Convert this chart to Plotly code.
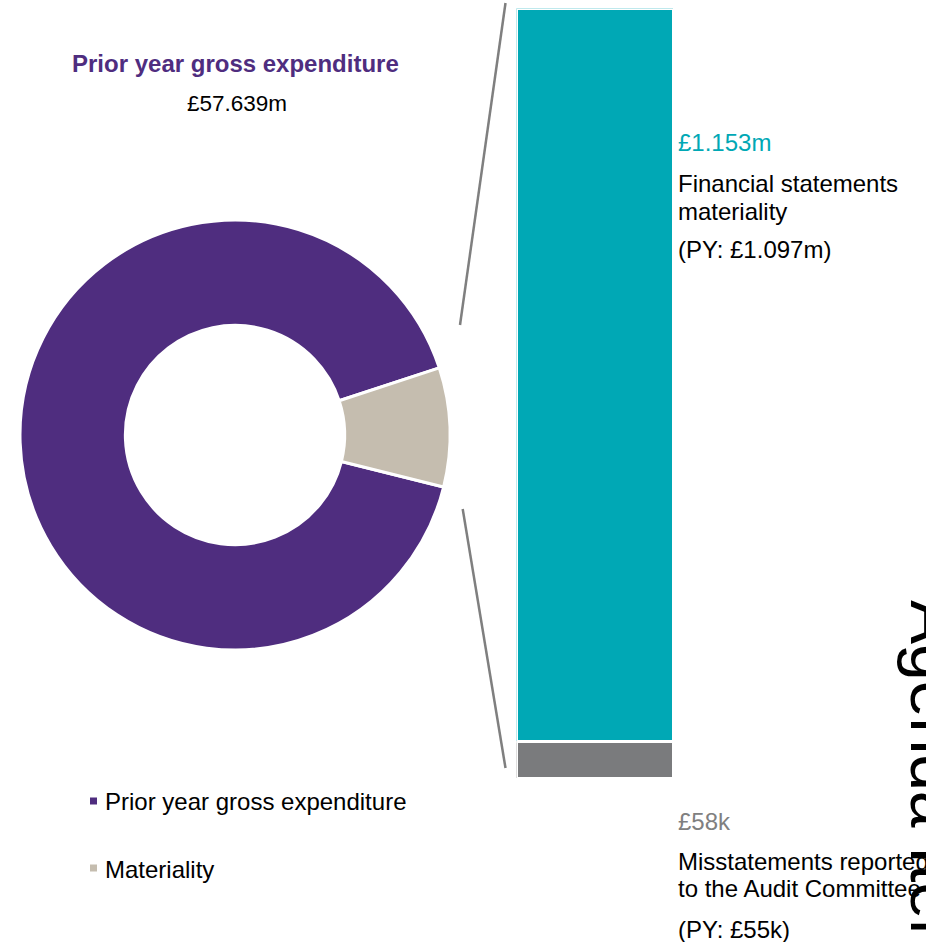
import plotly.graph_objects as go

W, H = 926, 942

# ---- data ----
donut_labels = ["Prior year gross expenditure", "Materiality"]
donut_values = [91.06, 8.94]          # share of ring as drawn
donut_colors = ["#4F2D7F", "#C5BDAF"]

bar_labels = ["Financial statements materiality",
              "Misstatements reported to the Audit Committee"]
bar_values = [1153, 58]               # £k
bar_colors = ["#00A8B5", "#7A7B7D"]

title_text = "Prior year gross expenditure"
total_text = "£57.639m"
fs_value = "£1.153m"
fs_lines = ["Financial statements", "materiality", "(PY: £1.097m)"]
ms_value = "£58k"
ms_lines = ["Misstatements reported", "to the Audit Committee", "(PY: £55k)"]

FONT = "Liberation Sans, Arial, sans-serif"


def px(x):
    return x / W


def py(y):
    return 1 - y / H


fig = go.Figure()

fig.add_trace(go.Pie(
    labels=donut_labels, values=donut_values, hole=0.51, sort=False,
    direction="clockwise", rotation=104.0,
    marker=dict(colors=donut_colors, line=dict(color="white", width=3)),
    textinfo="none", hoverinfo="label", showlegend=False,
    domain=dict(x=[px(20), px(450)], y=[py(650), py(220)]),
))

for lab, val, col in zip(reversed(bar_labels), reversed(bar_values), reversed(bar_colors)):
    fig.add_trace(go.Bar(
        x=[0], y=[val], width=1, name=lab, showlegend=False,
        marker=dict(color=col, line=dict(color="white", width=3)),
        xaxis="x", yaxis="y",
    ))

fig.update_layout(
    width=W, height=H, margin=dict(l=0, r=0, t=0, b=0),
    paper_bgcolor="white", plot_bgcolor="rgba(0,0,0,0)",
    barmode="stack", bargap=0,
    xaxis=dict(domain=[px(516.5), px(673.5)], range=[-0.5, 0.5], visible=False,
               fixedrange=True),
    yaxis=dict(domain=[py(778.5), py(8.5)], range=[0, sum(bar_values)], visible=False,
               fixedrange=True),
    font=dict(family=FONT, color="black"),
)

shapes = []
# connector lines
for (x0, y0, x1, y1) in [(460, 325, 505.5, 3), (462.7, 509, 505.5, 768)]:
    shapes.append(dict(type="line", xref="paper", yref="paper",
                       x0=px(x0), y0=py(y0), x1=px(x1), y1=py(y1),
                       line=dict(color="#7F7F7F", width=2.5)))
# legend squares
for yc, col in zip([801, 868], donut_colors):
    shapes.append(dict(type="rect", xref="paper", yref="paper",
                       x0=px(90), x1=px(97), y0=py(yc + 3.5), y1=py(yc - 3.5),
                       fillcolor=col, line=dict(width=0)))
fig.update_layout(shapes=shapes)

ann = []


def text(x, y, s, size=24, color="black", xanchor="left", bold=False):
    ann.append(dict(xref="paper", yref="paper", x=px(x), y=py(y), text=(f"<b>{s}</b>" if bold else s),
                    showarrow=False, xanchor=xanchor, yanchor="middle",
                    font=dict(family=FONT, size=size, color=color)))


text(235, 64, title_text, size=24, color="#4F2D7F", xanchor="center", bold=True)
text(237, 104, total_text, size=22.5, xanchor="center")

text(676, 143, fs_value, size=24, color="#00A8B5")
for yv, s in zip([183, 211, 250], fs_lines):
    text(676, yv, s, size=24)

text(676, 821, ms_value, size=24, color="#808080")
for yv, s in zip([861, 888, 929], ms_lines):
    text(676, yv, s, size=24)

for yv, s in zip([801, 869], donut_labels):
    text(103, yv, s, size=24)

ann.append(dict(xref="paper", yref="paper", x=px(934), y=py(598), text="Agenda Item",
                showarrow=False, textangle=90, xanchor="center", yanchor="top",
                font=dict(family=FONT, size=66, color="black")))
fig.update_layout(annotations=ann)

fig.write_html("out.html")
